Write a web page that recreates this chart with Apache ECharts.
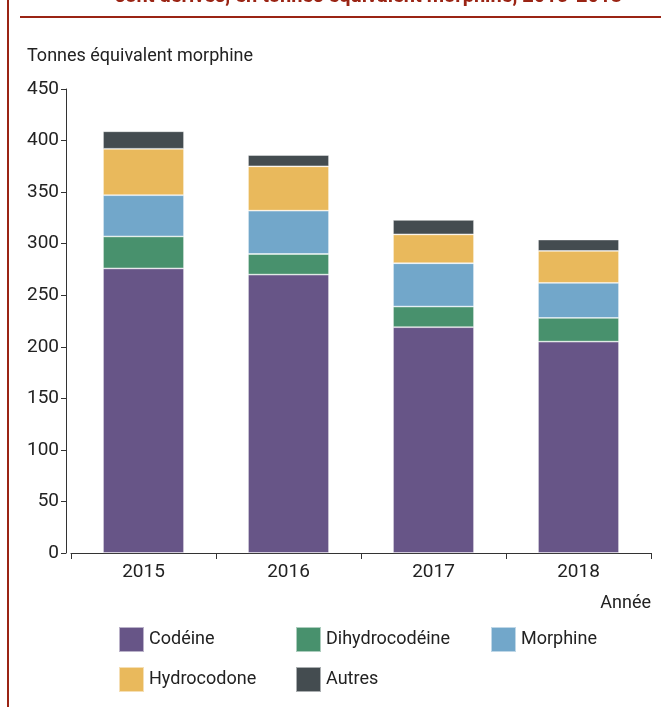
<!DOCTYPE html>
<html>
<head>
<meta charset="utf-8">
<script src="https://cdn.jsdelivr.net/npm/echarts@6/dist/echarts.min.js"></script>
<style>
  html, body { margin: 0; padding: 0; background: #fff; }
  #chart { width: 661px; height: 707px; }
</style>
</head>
<body>
<div id="chart"></div>
<script>
var years = ['2015', '2016', '2017', '2018']
var codeine = [276, 270, 219, 205]
var dihydrocodeine = [31, 20, 20, 23]
var morphine = [40, 42, 42, 34]
var hydrocodone = [45, 43, 28, 31]
var autres = [17, 11, 14, 11]

var font = 'Roboto, "Liberation Sans", Arial, sans-serif'
var red = '#9a2414'

function bar(name, data, color) {
  return {
    name: name,
    type: 'bar',
    stack: 'total',
    barWidth: 81,
    data: data,
    itemStyle: { color: color, borderColor: 'rgba(255,255,255,0.55)', borderWidth: 0.8 }
  }
}

function legendBlock(left, names) {
  return {
    left: left,
    top: 626,
    padding: 0,
    orient: 'vertical',
    itemWidth: 25,
    itemHeight: 25,
    itemGap: 13,
    icon: 'rect',
    data: names,
    textStyle: { fontFamily: font, fontSize: 18, color: '#222' }
  }
}

var myChart = echarts.init(document.getElementById('chart'))

myChart.setOption({
  animation: false,
  title: {
    text: 'sont dérivés, en tonnes équivalent morphine, 2015-2018',
    left: 115,
    top: -13.5,
    padding: 0,
    textStyle: { fontFamily: font, fontSize: 20, fontWeight: 'bold', color: red }
  },
  graphic: [
    { type: 'rect', shape: { x: 20, y: 16, width: 641, height: 2 }, style: { fill: red } },
    { type: 'rect', shape: { x: 7, y: 0, width: 2, height: 707 }, style: { fill: red } }
  ],
  legend: [
    legendBlock(118, ['Codéine', 'Hydrocodone']),
    legendBlock(295, ['Dihydrocodéine', 'Autres']),
    legendBlock(490, ['Morphine'])
  ],
  grid: { left: 71, right: 10, top: 89, bottom: 154 },
  xAxis: {
    type: 'category',
    data: years,
    name: 'Année',
    nameLocation: 'end',
    nameGap: 0,
    nameTextStyle: { fontFamily: font, fontSize: 18, color: '#222', align: 'right', verticalAlign: 'top', padding: [41, 0, 0, 0] },
    axisLine: { lineStyle: { color: '#333', width: 1 } },
    axisTick: { show: true, length: 6, lineStyle: { color: '#333' } },
    axisLabel: { fontFamily: font, fontSize: 19, color: '#222', margin: 10 }
  },
  yAxis: {
    type: 'value',
    min: 0,
    max: 450,
    interval: 50,
    offset: 5,
    name: 'Tonnes équivalent morphine',
    nameLocation: 'end',
    nameGap: 0,
    nameTextStyle: { fontFamily: font, fontSize: 18, color: '#222', align: 'left', padding: [0, 0, 24, -39] },
    splitLine: { show: false },
    axisLine: { show: true, lineStyle: { color: '#333', width: 1 } },
    axisTick: { show: true, length: 5, lineStyle: { color: '#333' } },
    axisLabel: { fontFamily: font, fontSize: 19, color: '#222', margin: 7 }
  },
  series: [
    bar('Codéine', codeine, '#675587'),
    bar('Dihydrocodéine', dihydrocodeine, '#48916d'),
    bar('Morphine', morphine, '#72a7ca'),
    bar('Hydrocodone', hydrocodone, '#e9b95c'),
    bar('Autres', autres, '#444c50')
  ]
})
</script>
</body>
</html>
